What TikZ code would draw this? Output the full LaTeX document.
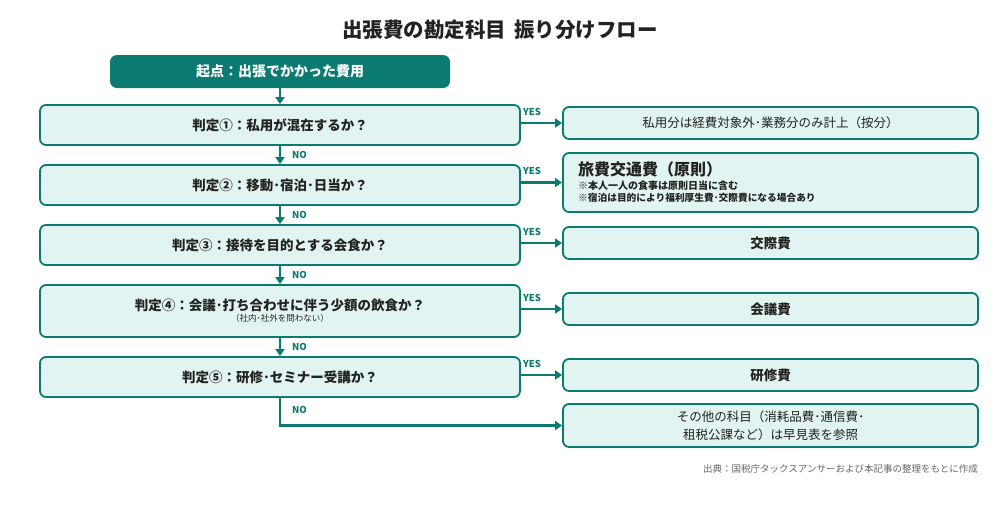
\documentclass[tikz,border=0pt]{standalone}
\usepackage{fontspec}
\setmainfont{Noto Sans CJK JP}
\usetikzlibrary{arrows.meta}
\definecolor{teal1}{HTML}{0B7A70}
\definecolor{fillc}{HTML}{E2F4F1}
\definecolor{txt}{HTML}{222222}
\definecolor{srcgray}{HTML}{666666}
\tikzset{
  dbox/.style={draw=teal1, line width=1.8pt, fill=fillc, rounded corners=6pt, align=center, text=txt, inner sep=0pt},
  rbox/.style={draw=teal1, line width=1.8pt, fill=fillc, rounded corners=6pt, align=center, text=txt, inner sep=0pt, minimum width=415pt},
  startbox/.style={fill=teal1, rounded corners=7pt, text=white, inner sep=0pt, minimum width=340pt, minimum height=33pt, font=\fontsize{14}{16}\selectfont\bfseries},
  conn/.style={draw=teal1, line width=2.4pt, -{Triangle[length=7pt,width=9pt]}},
  lbl/.style={text=teal1, inner sep=0pt, font=\fontsize{9.5}{10}\selectfont\bfseries},
  dtext/.style={font=\fontsize{13.5}{16}\selectfont\bfseries},
}
\begin{document}
\begin{tikzpicture}[x=1pt,y=-1pt]
\useasboundingbox (0,0) rectangle (1000,523);
\node[font=\fontsize{20.5}{24}\selectfont\bfseries, text=txt] (title) at (500,30) {出張費の勘定科目\hspace{0.4em}振り分けフロー};
\node[startbox] (start) at (280,71.5) {起点：出張でかかった費用};

\node[dbox, dtext, minimum width=480pt, minimum height=40pt] (d1) at (280,125) {判定①：私用が混在するか？};
\node[dbox, dtext, minimum width=480pt, minimum height=40pt] (d2) at (280,185) {判定②：移動･宿泊･日当か？};
\node[dbox, dtext, minimum width=480pt, minimum height=40pt] (d3) at (280,245) {判定③：接待を目的とする会食か？};
\node[dbox, minimum width=480pt, minimum height=52pt] (d4) at (280,311) {{\fontsize{13.5}{16}\selectfont\bfseries 判定④：会議･打ち合わせに伴う少額の飲食か？}\\[-1pt]{\fontsize{8.5}{10}\selectfont （社内･社外を問わない）}};
\node[dbox, dtext, minimum width=480pt, minimum height=40pt] (d5) at (280,377) {判定⑤：研修･セミナー受講か？};

\node[rbox, minimum height=32pt, font=\fontsize{12.5}{14}\selectfont] (r1) at (770.5,123) {私用分は経費対象外･業務分のみ計上（按分）};
\node[rbox, minimum height=59pt] (r2) at (770.5,182.5) {};
\node[anchor=north west, inner sep=0pt, align=left, text=txt] (r2t) at (578,161) {{\fontsize{16}{19}\selectfont\bfseries 旅費交通費（原則）}\\[2pt]{\fontsize{10}{12}\selectfont\bfseries ※本人一人の食事は原則日当に含む}\\[0.5pt]{\fontsize{9.7}{12}\selectfont\bfseries ※宿泊は目的により福利厚生費･交際費になる場合あり}};
\node[rbox, minimum height=32pt, font=\fontsize{13.5}{16}\selectfont\bfseries] (r3) at (770.5,243) {交際費};
\node[rbox, minimum height=32pt, font=\fontsize{13.5}{16}\selectfont\bfseries] (r4) at (770.5,309) {会議費};
\node[rbox, minimum height=32pt, font=\fontsize{13.5}{16}\selectfont\bfseries] (r5) at (770.5,375) {研修費};
\node[rbox, minimum height=43pt, font=\fontsize{12.5}{18}\selectfont] (r6) at (770.5,425.5) {その他の科目（消耗品費･通信費･\\租税公課など）は早見表を参照};

\draw[conn] (start.south) -- (d1.north);
\draw[conn] (d1.south) -- (d2.north);
\draw[conn] (d2.south) -- (d3.north);
\draw[conn] (d3.south) -- (d4.north);
\draw[conn] (d4.south) -- (d5.north);
\draw[conn] (d5.south) |- (r6.west);

\node[lbl, anchor=west] (n1) at (292,155) {NO};
\node[lbl, anchor=west] (n2) at (292,215) {NO};
\node[lbl, anchor=west] (n3) at (292,275) {NO};
\node[lbl, anchor=west] (n4) at (292,347) {NO};
\node[lbl, anchor=west] (n5) at (292,410) {NO};

\foreach \d/\r in {d1/r1,d2/r2,d3/r3,d4/r4,d5/r5}{
  \draw[conn] (\d.east |- \r.west) -- (\r.west);
  \node[lbl, anchor=base west] at ([xshift=2pt,yshift=8pt]\d.east |- \r.west) {YES};
}

\node[anchor=east, text=srcgray, inner sep=0pt, font=\fontsize{9.5}{11}\selectfont] (src) at (978,469) {出典：国税庁タックスアンサーおよび本記事の整理をもとに作成};
\end{tikzpicture}
\end{document}
